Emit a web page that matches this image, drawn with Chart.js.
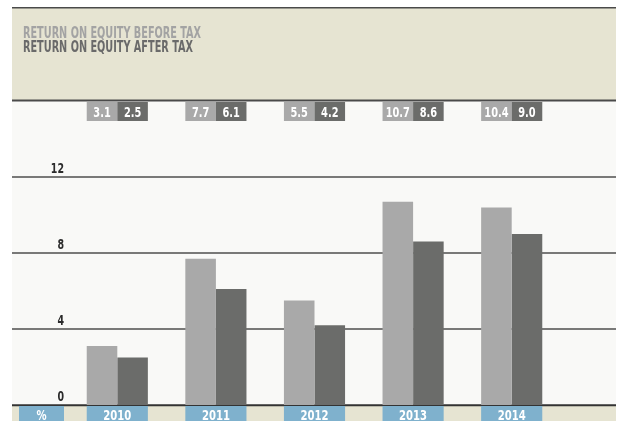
<!DOCTYPE html>
<html>
<head>
<meta charset="utf-8">
<script src="https://cdn.jsdelivr.net/npm/chart.js@4"></script>
<style>
  body { margin: 0; background: #ffffff; }
  #wrap { width: 620px; height: 421px; }
</style>
</head>
<body>
<div id="wrap"><canvas id="roe" width="620" height="421"></canvas></div>
<script>
// values
const years = ['2010', '2011', '2012', '2013', '2014'];
const beforeTax = [3.1, 7.7, 5.5, 10.7, 10.4];
const afterTax = [2.5, 6.1, 4.2, 8.6, 9.0];
const yTicks = [0, 4, 8, 12];
const unitLabel = '%';

const FONT = "'DejaVu Sans Condensed', 'Liberation Sans Narrow', sans-serif";
const beige = '#e6e4d2';
const plotBg = '#f9f9f7';
const lineCol = '#4a4a4a';
const blue = '#7fb1cd';
const colBefore = '#a9a9a9';
const colAfter = '#6b6c6a';

// draw text squeezed horizontally, like the narrow DIN face of the original
function narrowText(ctx, txt, x, y, squeeze) {
	ctx.save();
	ctx.translate(x, y);
	ctx.scale(squeeze, 1);
	ctx.fillText(txt, 0, 0);
	ctx.restore();
}

const frame = {
	id: 'frame',
	beforeDraw(chart) {
		const ctx = chart.ctx;
		const y = chart.scales.y;
		ctx.save();
		// header band
		ctx.fillStyle = beige;
		ctx.fillRect(12, 8, 604, 92);
		// plot band
		ctx.fillStyle = plotBg;
		ctx.fillRect(12, 101, 604, 304);
		// bottom band
		ctx.fillStyle = beige;
		ctx.fillRect(12, 406, 604, 15);
		// borders
		ctx.fillStyle = lineCol;
		ctx.fillRect(12, 7, 604, 1.5);
		ctx.fillRect(12, 99.5, 604, 2);

		// legend text from the dataset labels
		ctx.font = 'bold 15px ' + FONT;
		ctx.textAlign = 'left';
		ctx.textBaseline = 'alphabetic';
		chart.data.datasets.forEach((ds, i) => {
			ctx.fillStyle = i === 0 ? '#a3a3a3' : '#6a6a6a';
			narrowText(ctx, ds.label, 23, 37.5 + i * 14, 0.72);
		});

		// grid lines and y tick labels
		ctx.font = 'bold 14px ' + FONT;
		ctx.textAlign = 'right';
		yTicks.forEach(t => {
			const py = y.getPixelForValue(t);
			ctx.fillStyle = t === 0 ? '#333333' : '#4f4f4f';
			ctx.fillRect(12, py - 0.75, 604, t === 0 ? 2 : 1.5);
			ctx.fillStyle = '#2b2b2b';
			narrowText(ctx, String(t), 64, py - 4, 0.75);
		});
		ctx.restore();
	},
	afterDatasetsDraw(chart) {
		const ctx = chart.ctx;
		ctx.save();
		ctx.textAlign = 'center';
		ctx.textBaseline = 'alphabetic';
		ctx.font = 'bold 14px ' + FONT;
		// value boxes at the top
		chart.data.datasets.forEach((ds, di) => {
			chart.getDatasetMeta(di).data.forEach((bar, i) => {
				const w = bar.width;
				ctx.fillStyle = ds.backgroundColor;
				ctx.fillRect(bar.x - w / 2, 102, w, 19);
				ctx.fillStyle = '#ffffff';
				narrowText(ctx, ds.data[i].toFixed(1), bar.x, 117, 0.78);
			});
		});
		// year boxes at the bottom
		const m0 = chart.getDatasetMeta(0).data;
		const m1 = chart.getDatasetMeta(1).data;
		years.forEach((yr, i) => {
			const l = m0[i].x - m0[i].width / 2;
			const r = m1[i].x + m1[i].width / 2;
			ctx.fillStyle = blue;
			ctx.fillRect(l, 406, r - l, 15);
			ctx.fillStyle = '#ffffff';
			narrowText(ctx, yr, (l + r) / 2, 419.5, 0.8);
		});
		ctx.fillStyle = blue;
		ctx.fillRect(19, 406, 45, 15);
		ctx.fillStyle = '#ffffff';
		narrowText(ctx, unitLabel, 41.5, 419.5, 0.8);
		ctx.restore();
	}
};

new Chart(document.getElementById('roe'), {
	type: 'bar',
	data: {
		labels: years,
		datasets: [{
			label: 'RETURN ON EQUITY BEFORE TAX',
			data: beforeTax,
			backgroundColor: colBefore
		}, {
			label: 'RETURN ON EQUITY AFTER TAX',
			data: afterTax,
			backgroundColor: colAfter
		}]
	},
	options: {
		responsive: false,
		animation: false,
		devicePixelRatio: 1,
		layout: { padding: { left: 68, right: 59, top: 101, bottom: 16 } },
		datasets: { bar: { categoryPercentage: 0.62, barPercentage: 1.0 } },
		plugins: {
			legend: { display: false },
			tooltip: { enabled: false }
		},
		scales: {
			x: { display: false },
			y: { display: false, min: 0, max: 16 }
		}
	},
	plugins: [frame]
});
</script>
</body>
</html>
